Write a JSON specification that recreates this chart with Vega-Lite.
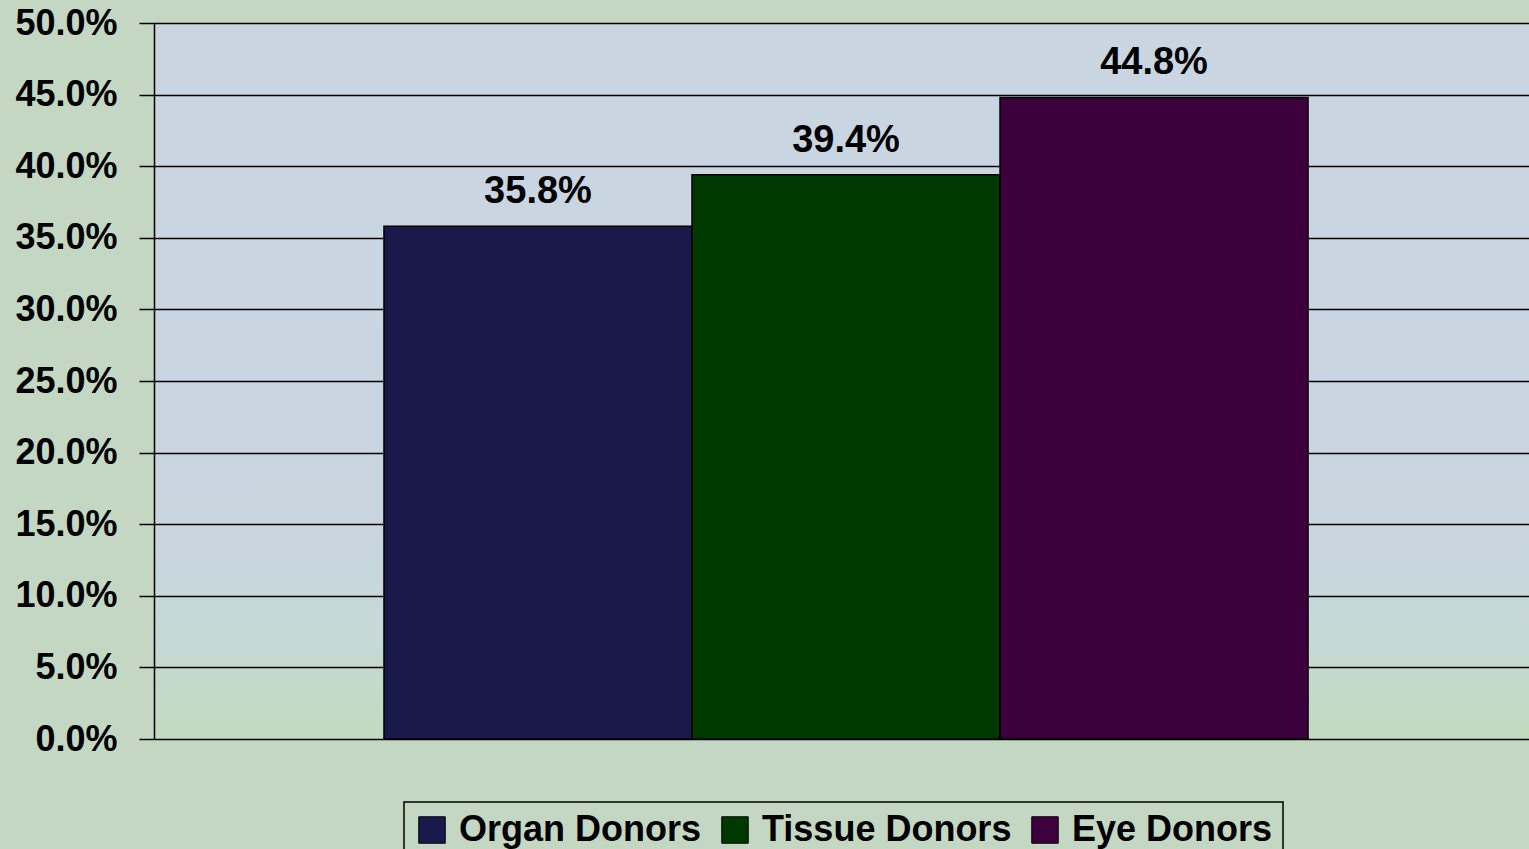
{
  "$schema": "https://vega.github.io/schema/vega-lite/v6.json",
  "autosize": "none",
  "width": 1375,
  "height": 716,
  "padding": {"left": 154, "top": 23, "right": 0, "bottom": 110},
  "background": "#c3d7c2",
  "config": {
    "view": {
      "stroke": null,
      "fill": {
        "gradient": "linear", "x1": 0, "y1": 0, "x2": 0, "y2": 1,
        "stops": [
          {"offset": 0, "color": "#cad5e2"},
          {"offset": 0.72, "color": "#c8d5df"},
          {"offset": 0.86, "color": "#c6d9d6"},
          {"offset": 1, "color": "#c2dabe"}
        ]
      }
    },
    "font": "Liberation Sans"
  },
  "data": {
    "values": [
      {"group": "Donors", "series": "Organ Donors", "value": 0.358},
      {"group": "Donors", "series": "Tissue Donors", "value": 0.394},
      {"group": "Donors", "series": "Eye Donors", "value": 0.448}
    ]
  },
  "encoding": {
    "x": {
      "field": "group", "type": "nominal",
      "scale": {"paddingOuter": 0.244, "paddingInner": 0, "align": 0.51},
      "axis": null
    },
    "xOffset": {
      "field": "series", "type": "nominal",
      "sort": ["Organ Donors", "Tissue Donors", "Eye Donors"],
      "scale": {"paddingInner": 0, "paddingOuter": 0}
    },
    "y": {
      "field": "value", "type": "quantitative",
      "scale": {"domain": [0, 0.5], "nice": false},
      "axis": {
        "title": null,
        "values": [0, 0.05, 0.1, 0.15, 0.2, 0.25, 0.3, 0.35, 0.4, 0.45, 0.5],
        "format": ".1%",
        "labelFont": "Liberation Sans",
        "labelFontSize": 36,
        "labelFontWeight": "bold",
        "labelColor": "#000000",
        "labelPadding": 22,
        "tickSize": 15,
        "tickColor": "#000000",
        "tickWidth": 1.5,
        "domainColor": "#000000",
        "domainWidth": 1.5,
        "grid": true,
        "gridColor": "#000000",
        "gridWidth": 1.5,
        "gridOpacity": 1
      }
    }
  },
  "layer": [
    {
      "mark": {"type": "bar", "stroke": "#000000", "strokeWidth": 1.5},
      "encoding": {
        "color": {
          "field": "series", "type": "nominal",
          "scale": {
            "domain": ["Organ Donors", "Tissue Donors", "Eye Donors"],
            "range": ["#19194b", "#003900", "#3c003c"]
          },
          "legend": {
            "title": null,
            "orient": "none",
            "direction": "horizontal",
            "legendX": 250,
            "legendY": 779,
            "strokeColor": "#000000",
            "padding": 10,
            "symbolType": "square",
            "symbolSize": 700,
            "symbolStrokeColor": "#000000",
            "symbolStrokeWidth": 1,
            "symbolOpacity": 1,
            "labelFont": "Liberation Sans",
            "labelFontSize": 36,
            "labelFontWeight": "bold",
            "labelColor": "#000000",
            "labelOffset": 9,
            "labelLimit": 400,
            "columnPadding": 15,
            "encode": {"legend": {"update": {"strokeWidth": {"value": 1.5}}}}
          }
        }
      }
    },
    {
      "mark": {
        "type": "text",
        "baseline": "bottom",
        "dy": -15,
        "font": "Liberation Sans",
        "fontSize": 38,
        "fontWeight": "bold",
        "color": "#000000"
      },
      "encoding": {
        "text": {"field": "value", "type": "quantitative", "format": ".1%"}
      }
    }
  ]
}
